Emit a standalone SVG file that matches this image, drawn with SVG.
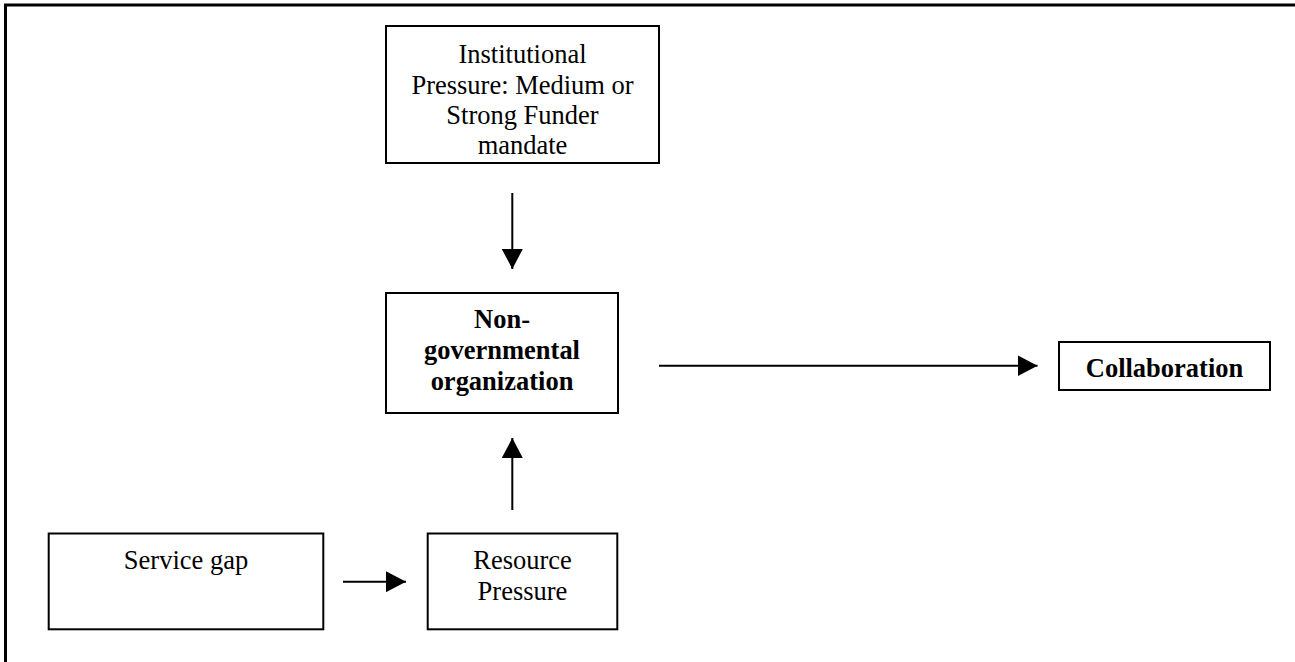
<svg xmlns="http://www.w3.org/2000/svg" width="1295" height="662" viewBox="0 0 1295 662">
  <style>
    .box { fill: #ffffff; stroke: #000000; stroke-width: 2; }
    .frame { fill: none; stroke: #000000; stroke-width: 3; }
    .edge { fill: none; stroke: #000000; stroke-width: 2; }
    .lbl { font-family: "Liberation Serif", "Times New Roman", serif; font-size: 26.5px; fill: #000000; text-anchor: middle; }
    .bold { font-weight: bold; }
  </style>
  <defs>
    <marker id="arrow" viewBox="0 0 20 21" refX="20" refY="10.5" markerWidth="20" markerHeight="21" markerUnits="userSpaceOnUse" orient="auto">
      <path d="M0,0 L20,10.5 L0,21 Z" fill="#000000"/>
    </marker>
  </defs>

  <rect width="1295" height="662" fill="#ffffff"/>

  <!-- page frame (top and left rules) -->
  <path class="frame" d="M5.5,662 V5 H1295"/>

  <!-- connectors -->
  <g id="connectors">
    <line class="edge" x1="512.3" y1="193" x2="512.3" y2="269" marker-end="url(#arrow)"/>
    <line class="edge" x1="512.3" y1="510" x2="512.3" y2="438" marker-end="url(#arrow)"/>
    <line class="edge" x1="659" y1="365.7" x2="1037.5" y2="365.7" marker-end="url(#arrow)"/>
    <line class="edge" x1="343" y1="581.7" x2="406" y2="581.7" marker-end="url(#arrow)"/>
  </g>

  <!-- labels are set in a slightly tall face: scale(1,1.06) -->
  <g id="institutional-pressure">
    <rect class="box" x="386" y="26" width="273" height="137"/>
    <text class="lbl" transform="translate(522.5,62.5) scale(1,1.06)">Institutional</text>
    <text class="lbl" transform="translate(522.5,93.5) scale(1,1.06)">Pressure: Medium or</text>
    <text class="lbl" transform="translate(522.5,123.5) scale(1,1.06)">Strong Funder</text>
    <text class="lbl" transform="translate(522.5,154) scale(1,1.06)">mandate</text>
  </g>

  <g id="ngo">
    <rect class="box" x="386" y="293" width="232" height="120"/>
    <text class="lbl bold" transform="translate(502,327.5) scale(1,1.06)">Non-</text>
    <text class="lbl bold" transform="translate(502,359) scale(1,1.06)">governmental</text>
    <text class="lbl bold" transform="translate(502,390) scale(1,1.06)">organization</text>
  </g>

  <g id="collaboration">
    <rect class="box" x="1059" y="342" width="211" height="48"/>
    <text class="lbl bold" transform="translate(1164.5,377.3) scale(1,1.06)">Collaboration</text>
  </g>

  <g id="service-gap">
    <rect class="box" x="48.7" y="533.5" width="274.6" height="95.8"/>
    <text class="lbl" transform="translate(186,569.3) scale(1,1.06)">Service gap</text>
  </g>

  <g id="resource-pressure">
    <rect class="box" x="427.7" y="533.5" width="189.6" height="95.8"/>
    <text class="lbl" transform="translate(522.5,569.3) scale(1,1.06)">Resource</text>
    <text class="lbl" transform="translate(522.5,600) scale(1,1.06)">Pressure</text>
  </g>
</svg>
